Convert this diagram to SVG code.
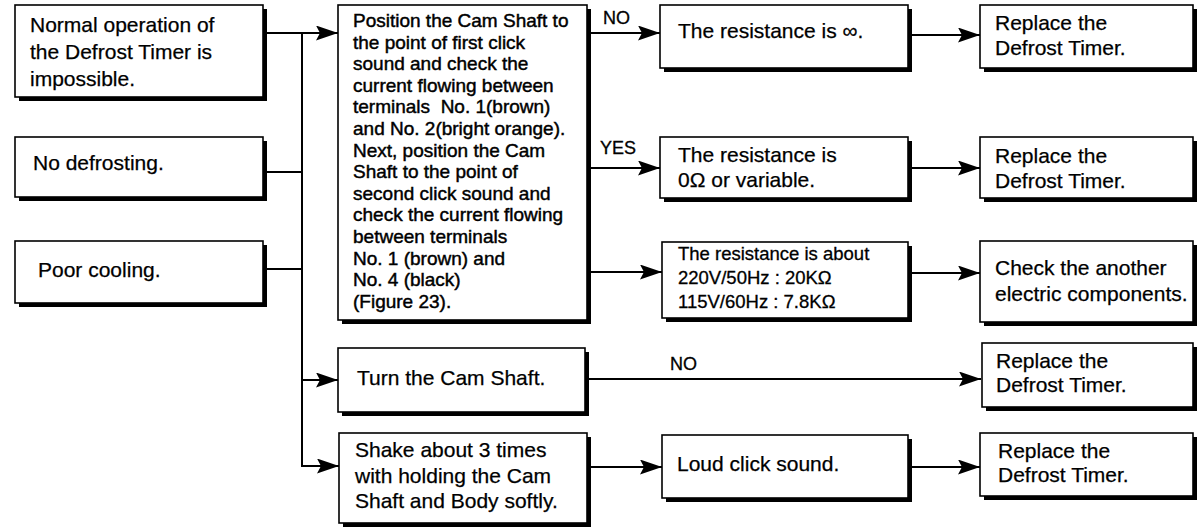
<svg xmlns="http://www.w3.org/2000/svg" width="1200" height="529" viewBox="0 0 1200 529">
<defs>
<style>
.sh{fill:#000}
.bx{fill:#fff;stroke:#000;stroke-width:1.6}
.t{font-family:"Liberation Sans",Arial,sans-serif;font-size:21px;fill:#000;stroke:#000;stroke-width:0.25}
.tb{font-family:"Liberation Sans",Arial,sans-serif;font-size:19px;fill:#000;stroke:#000;stroke-width:0.45;white-space:pre}
.ts{font-family:"Liberation Sans",Arial,sans-serif;font-size:18.5px;fill:#000;stroke:#000;stroke-width:0.3}
.lb{font-family:"Liberation Sans",Arial,sans-serif;font-size:18px;fill:#000;stroke:#000;stroke-width:0.3}
.c{fill:none;stroke:#000;stroke-width:2}
</style>
<marker id="ah" viewBox="0 0 22 15" refX="22" refY="7.5" markerWidth="22" markerHeight="15" markerUnits="userSpaceOnUse" orient="auto">
<path d="M0,0 L22,7.5 L0,15 L4,7.5 Z" fill="#000"/>
</marker>
</defs>
<rect width="1200" height="529" fill="#fff"/>

<g id="connectors">
<path class="c" d="M263,33 H302 V467"/>
<path class="c" d="M263,172 H302"/>
<path class="c" d="M263,269 H302"/>
<path class="c" d="M302,33 H338" marker-end="url(#ah)"/>
<path class="c" d="M302,380 H338" marker-end="url(#ah)"/>
<path class="c" d="M302,466 H339" marker-end="url(#ah)"/>
<path class="c" d="M587,33 H660" marker-end="url(#ah)"/>
<path class="c" d="M587,168 H660" marker-end="url(#ah)"/>
<path class="c" d="M587,272 H662" marker-end="url(#ah)"/>
<path class="c" d="M910,35 H980" marker-end="url(#ah)"/>
<path class="c" d="M910,168 H980" marker-end="url(#ah)"/>
<path class="c" d="M910,273 H980" marker-end="url(#ah)"/>
<path class="c" d="M585,379 H981" marker-end="url(#ah)"/>
<path class="c" d="M587,467 H662" marker-end="url(#ah)"/>
<path class="c" d="M910,467 H980" marker-end="url(#ah)"/>
<text class="lb" x="603" y="24">NO</text>
<text class="lb" x="600" y="154">YES</text>
<text class="lb" x="670" y="370">NO</text>
</g>

<g id="n-normal">
<rect class="sh" x="19" y="9" width="248" height="92"/>
<rect class="bx" x="15" y="5" width="248" height="92"/>
<text class="t" x="30" y="32">Normal operation of</text>
<text class="t" x="30" y="59">the Defrost Timer is</text>
<text class="t" x="30" y="86">impossible.</text>
</g>

<g id="n-nodefrost">
<rect class="sh" x="19" y="141" width="248" height="60"/>
<rect class="bx" x="15" y="137" width="248" height="60"/>
<text class="t" x="33" y="170">No defrosting.</text>
</g>

<g id="n-poor">
<rect class="sh" x="19" y="245" width="248" height="62"/>
<rect class="bx" x="15" y="241" width="248" height="62"/>
<text class="t" x="38" y="277">Poor cooling.</text>
</g>

<g id="n-position">
<rect class="sh" x="342" y="9" width="249" height="315"/>
<rect class="bx" x="338" y="5" width="249" height="315"/>
<text class="tb" x="353" y="27">Position the Cam Shaft to</text>
<text class="tb" x="353" y="48.6">the point of first click</text>
<text class="tb" x="353" y="70.2">sound and check the</text>
<text class="tb" x="353" y="91.8">current flowing between</text>
<text class="tb" x="353" y="113.4" xml:space="preserve">terminals  No. 1(brown)</text>
<text class="tb" x="353" y="135">and No. 2(bright orange).</text>
<text class="tb" x="353" y="156.6">Next, position the Cam</text>
<text class="tb" x="353" y="178.2">Shaft to the point of</text>
<text class="tb" x="353" y="199.8">second click sound and</text>
<text class="tb" x="353" y="221.4">check the current flowing</text>
<text class="tb" x="353" y="243">between terminals</text>
<text class="tb" x="353" y="264.6">No. 1 (brown) and</text>
<text class="tb" x="353" y="286.2">No. 4 (black)</text>
<text class="tb" x="353" y="307.8">(Figure 23).</text>
</g>

<g id="n-inf">
<rect class="sh" x="664" y="9" width="248" height="63"/>
<rect class="bx" x="660" y="5" width="248" height="63"/>
<text class="t" x="678" y="38">The resistance is ∞.</text>
</g>

<g id="n-zero">
<rect class="sh" x="664" y="141" width="248" height="61"/>
<rect class="bx" x="660" y="137" width="248" height="61"/>
<text class="t" x="678" y="162">The resistance is</text>
<text class="t" x="678" y="187">0Ω or variable.</text>
</g>

<g id="n-about">
<rect class="sh" x="666" y="246" width="246" height="76"/>
<rect class="bx" x="662" y="242" width="246" height="76"/>
<text class="ts" x="678" y="260">The resistance is about</text>
<text class="ts" x="678" y="284">220V/50Hz : 20KΩ</text>
<text class="ts" x="678" y="308">115V/60Hz : 7.8KΩ</text>
</g>

<g id="n-replace1">
<rect class="sh" x="984" y="9" width="213" height="63"/>
<rect class="bx" x="980" y="5" width="213" height="63"/>
<text class="t" x="995" y="30">Replace the</text>
<text class="t" x="995" y="55">Defrost Timer.</text>
</g>

<g id="n-replace2">
<rect class="sh" x="984" y="141" width="213" height="61"/>
<rect class="bx" x="980" y="137" width="213" height="61"/>
<text class="t" x="995" y="163">Replace the</text>
<text class="t" x="995" y="188">Defrost Timer.</text>
</g>

<g id="n-check">
<rect class="sh" x="984" y="245" width="213" height="81"/>
<rect class="bx" x="980" y="241" width="213" height="81"/>
<text class="t" x="995" y="275">Check the another</text>
<text class="t" x="995" y="301">electric components.</text>
</g>

<g id="n-replace3">
<rect class="sh" x="986" y="347" width="211" height="64"/>
<rect class="bx" x="982" y="343" width="211" height="64"/>
<text class="t" x="996" y="368">Replace the</text>
<text class="t" x="996" y="392">Defrost Timer.</text>
</g>

<g id="n-turn">
<rect class="sh" x="342" y="352" width="247" height="64"/>
<rect class="bx" x="338" y="348" width="247" height="64"/>
<text class="t" x="357" y="385">Turn the Cam Shaft.</text>
</g>

<g id="n-shake">
<rect class="sh" x="343" y="437" width="248" height="90"/>
<rect class="bx" x="339" y="433" width="248" height="90"/>
<text class="t" x="355" y="457">Shake about 3 times</text>
<text class="t" x="355" y="483">with holding the Cam</text>
<text class="t" x="355" y="508">Shaft and Body softly.</text>
</g>

<g id="n-loud">
<rect class="sh" x="666" y="439" width="246" height="63"/>
<rect class="bx" x="662" y="435" width="246" height="63"/>
<text class="t" x="677" y="471">Loud click sound.</text>
</g>

<g id="n-replace4">
<rect class="sh" x="984" y="437" width="213" height="63"/>
<rect class="bx" x="980" y="433" width="213" height="63"/>
<text class="t" x="998" y="458">Replace the</text>
<text class="t" x="998" y="482">Defrost Timer.</text>
</g>
</svg>
